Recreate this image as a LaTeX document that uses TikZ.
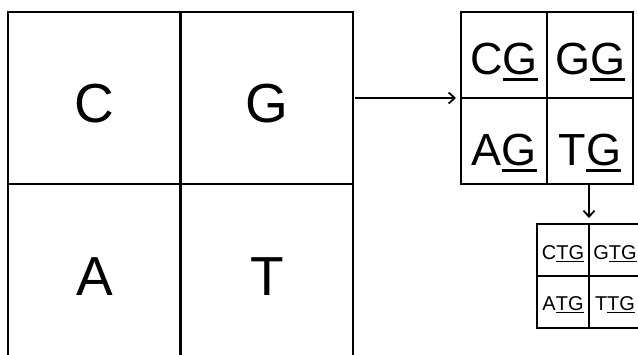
\documentclass[tikz,border=0pt]{standalone}
\usepackage{fontspec}
\setmainfont{Liberation Sans}
\usetikzlibrary{arrows.meta}
\newcommand\ulbase[1]{\setbox0\hbox{#1}\rlap{\rule[-0.16em]{\wd0}{0.07em}}\box0}

\begin{document}
\begin{tikzpicture}[x=1pt,y=-1pt,
  gridbox/.style={draw,line width=2.2pt,inner sep=0,outer sep=0},
  bigtext/.style={anchor=base,inner sep=0,font=\fontsize{55}{55}\selectfont},
  midtext/.style={anchor=base,inner sep=0,font=\fontsize{45}{45}\selectfont},
  smalltext/.style={anchor=base,inner sep=0,font=\fontsize{20}{20}\selectfont},
  arr/.style={-{Straight Barb[length=6pt,width=11pt]},line width=1.8pt}]
\useasboundingbox (0,0) rectangle (638,354);
% large grid
\node[gridbox,minimum width=345,minimum height=344] (big) at (180.5,184) {};
\draw[line width=2.2pt] (big.north) -- (big.south);
\draw[line width=2.2pt] (big.west) -- (big.east);
\node[bigtext] (bigC) at (94.5,122) {C};
\node[bigtext] (bigG) at (267,122) {G};
\node[bigtext] (bigA) at (94.5,295) {A};
\node[bigtext] (bigT) at (267,295) {T};
% middle grid
\node[gridbox,minimum width=172,minimum height=172] (mid) at (547,98) {};
\draw[line width=2.2pt] (mid.north) -- (mid.south);
\draw[line width=2.2pt] (mid.west) -- (mid.east);
\node[midtext] (midCG) at (504,74) {C\ulbase{G}};
\node[midtext] (midGG) at (590,74) {G\ulbase{G}};
\node[midtext] (midAG) at (504,165) {A\ulbase{G}};
\node[midtext] (midTG) at (590,165) {T\ulbase{G}};
% small grid
\node[gridbox,line width=1.8pt,minimum width=104,minimum height=104] (small) at (589,276) {};
\draw[line width=1.8pt] (small.north) -- (small.south);
\draw[line width=1.8pt] (small.west) -- (small.east);
\node[smalltext] (smallCTG) at (563,259) {C\ulbase{TG}};
\node[smalltext] (smallGTG) at (615,259) {G\ulbase{TG}};
\node[smalltext] (smallATG) at (563,310) {A\ulbase{TG}};
\node[smalltext] (smallTTG) at (615,310) {T\ulbase{TG}};
% arrows
\draw[arr,shorten <=2pt,shorten >=5pt] (mid.west -| big.east) -- (mid.west);
\draw[arr,shorten >=6pt] (small.north |- mid.south) -- (small.north);
\end{tikzpicture}
\end{document}
